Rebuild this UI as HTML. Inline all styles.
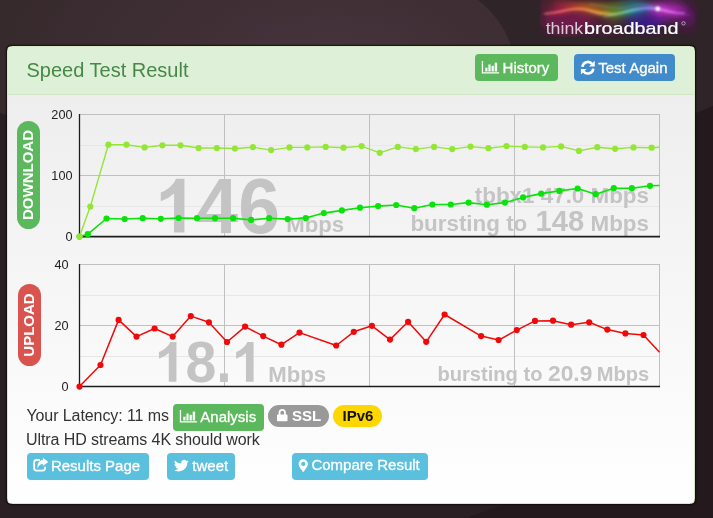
<!DOCTYPE html>
<html>
<head>
<meta charset="utf-8">
<title>Speed Test Result</title>
<style>
html,body{margin:0;padding:0;}
body{width:713px;height:518px;overflow:hidden;position:relative;background:#2a1f22;font-family:"Liberation Sans",sans-serif;}
#bg{position:absolute;left:0;top:0;width:713px;height:518px;}
#panel{position:absolute;left:7px;top:45.600px;width:686px;height:456.400px;border:1px solid #d6e9c6;border-radius:4.500px;background:linear-gradient(#eeeeee 48px,#ffffff 100%);box-shadow:0 0 1.500px .5px rgba(16,6,10,.8);overflow:hidden;}
#head{position:absolute;left:0;top:0;right:0;height:48px;background:#dff0d8;border-bottom:1px solid #d3e6c8;box-sizing:border-box;}
#title{position:absolute;left:18.5px;top:11.4px;font-size:20px;line-height:24px;color:#468847;white-space:nowrap;}
.btn{position:absolute;box-sizing:border-box;color:#fff;white-space:nowrap;border-radius:4px;font-size:15px;}
.btn span{position:absolute;top:0;line-height:100%;-webkit-text-stroke:.3px #fff;}
svg{position:absolute;left:0;top:0;overflow:visible;}
.t{position:absolute;white-space:nowrap;color:#333;font-size:16px;line-height:20px;}
.pill{position:absolute;border-radius:12px;margin-left:-.5px;}
.pill div{position:absolute;left:50%;top:50%;color:#fff;font-weight:bold;font-size:15px;line-height:16px;white-space:nowrap;transform:translate(-50%,-50%) rotate(-90deg);}
.badge{position:absolute;border-radius:11px;height:21.5px;top:405px;font-weight:bold;font-size:15px;line-height:21px;white-space:nowrap;}
</style>
</head>
<body>
<div id="root" style="position:absolute;left:0;top:0;width:713px;height:518px;will-change:transform;">
<svg id="bg" width="713" height="518" viewBox="0 0 713 518">
  <defs>
    <radialGradient id="glow" cx="330" cy="60" r="330" gradientUnits="userSpaceOnUse" gradientTransform="translate(0 30) scale(1 .5)">
      <stop offset="0" stop-color="#46343c"/>
      <stop offset="1" stop-color="#372a2d"/>
    </radialGradient>
  </defs>
  <rect width="713" height="518" fill="#2a1f23"/>
  <path d="M466 518L505 504H695V113.400L713 106V518Z" fill="#24191d"/>
  <path d="M0 0H713V106L695 113.400H7L0 112.700Z" fill="#2f2428"/>
  <path d="M0 0H478Q505 22 512 50L8 50L7 115L0 112.700Z" fill="#372a2d"/>
  <path d="M0 0H478Q505 22 512 50L0 50Z" fill="url(#glow)"/>
</svg>

<!-- logo -->
<svg id="logo" width="713" height="60" viewBox="0 0 713 60">
  <defs>
    <filter id="b6" x="-50%" y="-100%" width="200%" height="300%"><feGaussianBlur stdDeviation="5"/></filter>
    <filter id="b3" x="-30%" y="-100%" width="160%" height="300%"><feGaussianBlur stdDeviation="2.4"/></filter>
    <filter id="b1" x="-20%" y="-100%" width="140%" height="300%"><feGaussianBlur stdDeviation=".8"/></filter>
    <clipPath id="lc"><rect x="539.5" y="0" width="157.5" height="36.7"/></clipPath>
    <linearGradient id="rb" x1="545" x2="695" y1="0" y2="0" gradientUnits="userSpaceOnUse">
      <stop offset="0" stop-color="#d02050" stop-opacity=".3"/>
      <stop offset=".1" stop-color="#e8304a"/>
      <stop offset=".25" stop-color="#f0701a"/>
      <stop offset=".38" stop-color="#e8b020"/>
      <stop offset=".48" stop-color="#70c830"/>
      <stop offset=".58" stop-color="#28c0b8"/>
      <stop offset=".68" stop-color="#5868f0"/>
      <stop offset=".76" stop-color="#f060f8"/>
      <stop offset=".88" stop-color="#c028c8"/>
      <stop offset="1" stop-color="#701080" stop-opacity=".2"/>
    </linearGradient>
  </defs>
  <g clip-path="url(#lc)">
    <rect x="539.500" y="0" width="157.500" height="36.700" fill="#35212d"/>
    <g filter="url(#b6)">
      <ellipse cx="568" cy="20" rx="26" ry="14" fill="#7a1650" opacity=".8"/>
      <ellipse cx="560" cy="4" rx="18" ry="7" fill="#8a2030" opacity=".5"/>
      <ellipse cx="592" cy="9" rx="16" ry="6" fill="#b04020" opacity=".5"/>
      <ellipse cx="606" cy="26" rx="14" ry="8" fill="#5a1a3a" opacity=".6"/>
      <ellipse cx="616" cy="12" rx="10" ry="7" fill="#6a9020" opacity=".6"/>
      <ellipse cx="634" cy="9" rx="12" ry="7" fill="#1a7a9a" opacity=".6"/>
      <ellipse cx="646" cy="21" rx="20" ry="9" fill="#3a169a" opacity=".8"/>
      <ellipse cx="668" cy="10" rx="18" ry="9" fill="#b020c0" opacity=".75"/>
      <ellipse cx="686" cy="18" rx="10" ry="10" fill="#6a1878" opacity=".6"/>
    </g>
    <g filter="url(#b3)" fill="none" stroke="url(#rb)" stroke-linecap="round">
      <path d="M544 14C560 13 568 8 580 8S600 16 618 13S640 7 656 9S680 16 694 14" stroke-width="5" opacity=".6"/>
      <path d="M556 5C580 1 600 8 616 5S640 1 652 5S676 12 694 5" stroke-width="4" opacity=".4"/>
    </g>
    <g filter="url(#b1)" fill="none" stroke-linecap="round">
      <path d="M544 14C560 13 568 8.500 580 8.500S600 16 618 13.500S640 8 656 9S680 15 692 15" stroke="url(#rb)" stroke-width="1.600"/>
      <path d="M545 13.500C558 13 566 9 577 9S592 13 602 14.500" stroke="#ffc0a0" stroke-width=".9" opacity=".8"/>
      <path d="M604 16C616 16 624 11 634 9S650 7.500 657 9S672 14 684 13" stroke="#e8d0ff" stroke-width=".9" opacity=".7"/>
      <path d="M590 4C604 6 614 10 626 7S646 3 657 8" stroke="#80e0c0" stroke-width=".7" opacity=".5"/>
    </g>
    <circle cx="657.800" cy="8.800" r="2.300" fill="#fff" filter="url(#b1)"/>
  </g>
  <g font-family="Liberation Sans, sans-serif" font-size="16.600">
    <text x="545.700" y="33.800" fill="#dccbd8" textLength="37.500" lengthAdjust="spacingAndGlyphs">think</text>
    <text x="584" y="33.800" fill="#ffffff" stroke="#ffffff" stroke-width=".22" textLength="94.500" lengthAdjust="spacingAndGlyphs">broadband</text>
  </g>
  <circle cx="683.500" cy="23.300" r="1.700" fill="none" stroke="#d8c8d4" stroke-width=".7"/>
</svg>

<div id="panel">
  <div id="head">
    <div id="title">Speed Test Result</div>
  </div>
</div>

<!-- header buttons (page coords) -->
<div class="btn" style="left:475px;top:53.8px;width:83px;height:27px;background:#5cb85c;">
  <svg width="83" height="27" viewBox="0 0 83 27"><g fill="#fff"><path d="M6.8 7.1h1.3v11.2H24.1v1.3H6.8z"/><rect x="10.3" y="13.7" width="2.2" height="3.8"/><rect x="13.4" y="10.5" width="2.2" height="7"/><rect x="16.6" y="11.8" width="2.2" height="5.7"/><rect x="19.7" y="8.6" width="2.4" height="8.9"/></g></svg>
  <span style="left:27.600px;top:6.400px;">History</span>
</div>
<div class="btn" style="left:574.2px;top:53.8px;width:100.7px;height:27px;background:#428bca;">
  <svg width="101" height="27" viewBox="0 0 101 27"><g fill="none" stroke="#fff" stroke-width="2.6"><path d="M8.4 12.8A5.500 5.500 0 0 1 18.1 9.900"/><path d="M19.3 14.600A5.500 5.500 0 0 1 9.600 17.500"/></g><path d="M20.800 6.800v5.700h-5.700zM6.900 20.600v-5.700h5.700z" fill="#fff"/></svg>
  <span style="left:24.100px;top:6.400px;">Test Again</span>
</div>

<!-- charts -->
<svg id="charts" width="713" height="518" viewBox="0 0 713 518" font-family="Liberation Sans, sans-serif">
  <!-- download grid -->
  <g stroke="#e7e7e7" stroke-width="1" shape-rendering="crispEdges">
    <line x1="80" x2="659.5" y1="145.5" y2="145.5"/><line x1="80" x2="659.5" y1="206.5" y2="206.5"/>
    <line x1="80" x2="659.5" y1="295.5" y2="295.5"/><line x1="80" x2="659.5" y1="356.5" y2="356.5"/>
  </g>
  <g stroke="#c0c0c0" stroke-width="1" shape-rendering="crispEdges">
    <line x1="80" x2="660" y1="114.5" y2="114.5"/><line x1="80" x2="660" y1="175.5" y2="175.5"/>
    <line x1="224.5" x2="224.5" y1="114" y2="236"/><line x1="369.5" x2="369.5" y1="114" y2="236"/><line x1="514.5" x2="514.5" y1="114" y2="236"/><line x1="659.5" x2="659.5" y1="114" y2="236"/>
    <line x1="80" x2="660" y1="264.5" y2="264.5"/><line x1="80" x2="660" y1="325.5" y2="325.5"/>
    <line x1="224.5" x2="224.5" y1="264" y2="386"/><line x1="369.5" x2="369.5" y1="264" y2="386"/><line x1="514.5" x2="514.5" y1="264" y2="386"/><line x1="659.5" x2="659.5" y1="264" y2="386"/>
  </g>
  <!-- watermark text -->
  <g fill="#c4c4c4" font-weight="bold">
    <g transform="translate(154.9 232.5)"><path transform="translate(0.00 0) scale(0.03662 -0.03662)" d="M806 0H524V1063Q370 919 161 850V1094Q271 1130 400 1230.5Q529 1331 577 1466H806Z"/><text transform="translate(41.71 0) scale(1 1.04)" x="0" y="0" font-size="75">46</text></g>
    <text x="286.2" y="232.2" font-size="22.2">Mbps</text>
    <text x="649" y="203.3" font-size="22.4" text-anchor="end">tbbx1 47.0 Mbps</text>
    <text x="410.4" y="231" font-size="22.4">bursting to</text><text x="535.6" y="231" font-size="29.2">148</text><text x="649" y="231" font-size="22.4" text-anchor="end">Mbps</text>
    <g transform="translate(154.6 381.7)"><path transform="translate(0.00 0) scale(0.02710 -0.02710)" d="M806 0H524V1063Q370 919 161 850V1094Q271 1130 400 1230.5Q529 1331 577 1466H806Z"/><text transform="translate(30.87 0) scale(1 1.04)" x="0" y="0" font-size="55.5">8.</text><path transform="translate(77.15 0) scale(0.02710 -0.02710)" d="M806 0H524V1063Q370 919 161 850V1094Q271 1130 400 1230.5Q529 1331 577 1466H806Z"/></g>
    <text x="268.2" y="381.6" font-size="22.2">Mbps</text>
    <text x="437.5" y="381" font-size="20.1">bursting to</text><text x="548" y="381" font-size="22.8">20.9</text><text x="649.2" y="381" font-size="20.1" text-anchor="end">Mbps</text>
  </g>
  <!-- axes -->
  <g stroke="#1c1c1c">
    <line x1="79.500" x2="79.500" y1="114" y2="237" stroke-width="1.300"/>
    <line x1="79" x2="660" y1="236.600" y2="236.600" stroke-width="1.700"/>
    <line x1="79.500" x2="79.500" y1="264" y2="387" stroke-width="1.300"/>
    <line x1="79" x2="660" y1="386.500" y2="386.500" stroke-width="1.700"/>
  </g>
  <g fill="#222" font-size="12.7" text-anchor="end">
    <text x="72.5" y="119">200</text><text x="72.5" y="180">100</text><text x="72.5" y="240.5">0</text>
    <text x="68.5" y="269">40</text><text x="68.5" y="330">20</text><text x="68.5" y="390.5">0</text>
  </g>
  <polyline points="79.5,236.6 87.8,234.2 106.5,218.5 124.6,219.0 142.7,218.2 160.8,218.8 178.6,218.0 197.0,218.2 215.0,218.2 233.1,218.2 251.1,219.9 269.2,218.2 287.6,219.1 305.7,218.0 323.8,213.1 341.9,210.4 360.0,207.7 378.1,206.1 396.2,205.0 414.3,208.2 432.4,204.5 450.8,204.5 468.6,202.6 486.8,204.7 504.9,202.6 523.1,197.4 541.2,193.6 559.3,190.9 577.6,188.5 595.7,194.2 613.8,188.2 631.9,188.2 650.0,185.8 659.5,185.5" fill="none" stroke="#0ae30a" stroke-width="1.6" stroke-linejoin="round"/>
<circle cx="79.5" cy="236.6" r="3.1" fill="#0ae30a"/><circle cx="87.8" cy="234.2" r="3.1" fill="#0ae30a"/><circle cx="106.5" cy="218.5" r="3.1" fill="#0ae30a"/><circle cx="124.6" cy="219.0" r="3.1" fill="#0ae30a"/><circle cx="142.7" cy="218.2" r="3.1" fill="#0ae30a"/><circle cx="160.8" cy="218.8" r="3.1" fill="#0ae30a"/><circle cx="178.6" cy="218.0" r="3.1" fill="#0ae30a"/><circle cx="197.0" cy="218.2" r="3.1" fill="#0ae30a"/><circle cx="215.0" cy="218.2" r="3.1" fill="#0ae30a"/><circle cx="233.1" cy="218.2" r="3.1" fill="#0ae30a"/><circle cx="251.1" cy="219.9" r="3.1" fill="#0ae30a"/><circle cx="269.2" cy="218.2" r="3.1" fill="#0ae30a"/><circle cx="287.6" cy="219.1" r="3.1" fill="#0ae30a"/><circle cx="305.7" cy="218.0" r="3.1" fill="#0ae30a"/><circle cx="323.8" cy="213.1" r="3.1" fill="#0ae30a"/><circle cx="341.9" cy="210.4" r="3.1" fill="#0ae30a"/><circle cx="360.0" cy="207.7" r="3.1" fill="#0ae30a"/><circle cx="378.1" cy="206.1" r="3.1" fill="#0ae30a"/><circle cx="396.2" cy="205.0" r="3.1" fill="#0ae30a"/><circle cx="414.3" cy="208.2" r="3.1" fill="#0ae30a"/><circle cx="432.4" cy="204.5" r="3.1" fill="#0ae30a"/><circle cx="450.8" cy="204.5" r="3.1" fill="#0ae30a"/><circle cx="468.6" cy="202.6" r="3.1" fill="#0ae30a"/><circle cx="486.8" cy="204.7" r="3.1" fill="#0ae30a"/><circle cx="504.9" cy="202.6" r="3.1" fill="#0ae30a"/><circle cx="523.1" cy="197.4" r="3.1" fill="#0ae30a"/><circle cx="541.2" cy="193.6" r="3.1" fill="#0ae30a"/><circle cx="559.3" cy="190.9" r="3.1" fill="#0ae30a"/><circle cx="577.6" cy="188.5" r="3.1" fill="#0ae30a"/><circle cx="595.7" cy="194.2" r="3.1" fill="#0ae30a"/><circle cx="613.8" cy="188.2" r="3.1" fill="#0ae30a"/><circle cx="631.9" cy="188.2" r="3.1" fill="#0ae30a"/><circle cx="650.0" cy="185.8" r="3.1" fill="#0ae30a"/>

  <polyline points="79.5,236.6 90.3,206.6 108.4,144.7 126.5,144.7 144.6,147.4 162.4,145.3 180.5,145.3 198.6,148.0 216.8,148.0 234.9,148.5 253.0,147.2 271.1,150.1 289.5,147.4 307.3,147.4 325.7,146.9 343.5,147.7 361.6,146.1 379.7,152.8 397.8,146.9 415.9,149.1 434.1,146.9 452.2,149.1 470.5,146.6 488.4,148.2 506.5,146.1 524.8,146.9 543.0,147.4 561.1,146.4 578.9,150.9 597.3,147.2 615.1,148.8 633.5,147.4 651.6,147.7 659.5,147.2" fill="none" stroke="#94e635" stroke-width="1.4" stroke-linejoin="round"/>
<circle cx="79.5" cy="236.6" r="3.1" fill="#94e635"/><circle cx="90.3" cy="206.6" r="3.1" fill="#94e635"/><circle cx="108.4" cy="144.7" r="3.1" fill="#94e635"/><circle cx="126.5" cy="144.7" r="3.1" fill="#94e635"/><circle cx="144.6" cy="147.4" r="3.1" fill="#94e635"/><circle cx="162.4" cy="145.3" r="3.1" fill="#94e635"/><circle cx="180.5" cy="145.3" r="3.1" fill="#94e635"/><circle cx="198.6" cy="148.0" r="3.1" fill="#94e635"/><circle cx="216.8" cy="148.0" r="3.1" fill="#94e635"/><circle cx="234.9" cy="148.5" r="3.1" fill="#94e635"/><circle cx="253.0" cy="147.2" r="3.1" fill="#94e635"/><circle cx="271.1" cy="150.1" r="3.1" fill="#94e635"/><circle cx="289.5" cy="147.4" r="3.1" fill="#94e635"/><circle cx="307.3" cy="147.4" r="3.1" fill="#94e635"/><circle cx="325.7" cy="146.9" r="3.1" fill="#94e635"/><circle cx="343.5" cy="147.7" r="3.1" fill="#94e635"/><circle cx="361.6" cy="146.1" r="3.1" fill="#94e635"/><circle cx="379.7" cy="152.8" r="3.1" fill="#94e635"/><circle cx="397.8" cy="146.9" r="3.1" fill="#94e635"/><circle cx="415.9" cy="149.1" r="3.1" fill="#94e635"/><circle cx="434.1" cy="146.9" r="3.1" fill="#94e635"/><circle cx="452.2" cy="149.1" r="3.1" fill="#94e635"/><circle cx="470.5" cy="146.6" r="3.1" fill="#94e635"/><circle cx="488.4" cy="148.2" r="3.1" fill="#94e635"/><circle cx="506.5" cy="146.1" r="3.1" fill="#94e635"/><circle cx="524.8" cy="146.9" r="3.1" fill="#94e635"/><circle cx="543.0" cy="147.4" r="3.1" fill="#94e635"/><circle cx="561.1" cy="146.4" r="3.1" fill="#94e635"/><circle cx="578.9" cy="150.9" r="3.1" fill="#94e635"/><circle cx="597.3" cy="147.2" r="3.1" fill="#94e635"/><circle cx="615.1" cy="148.8" r="3.1" fill="#94e635"/><circle cx="633.5" cy="147.4" r="3.1" fill="#94e635"/><circle cx="651.6" cy="147.7" r="3.1" fill="#94e635"/>

  <polyline points="79.5,386.6 100.5,365.0 118.6,319.9 136.5,336.6 154.6,328.5 172.7,336.6 190.8,316.1 208.9,322.3 227.0,342.0 245.1,326.6 263.2,336.1 281.4,344.7 299.5,332.6 336.2,345.5 353.8,331.8 371.9,325.8 390.0,339.6 408.1,321.8 426.2,341.8 444.6,314.5 481.1,336.1 498.6,340.1 516.8,330.1 535.0,320.9 553.0,320.7 571.1,324.7 589.2,322.3 607.3,329.6 625.4,333.4 643.5,335.0 659.5,352.3" fill="none" stroke="#ee0a0a" stroke-width="1.5" stroke-linejoin="round"/>
<circle cx="79.5" cy="386.6" r="3.1" fill="#ee0a0a"/><circle cx="100.5" cy="365.0" r="3.1" fill="#ee0a0a"/><circle cx="118.6" cy="319.9" r="3.1" fill="#ee0a0a"/><circle cx="136.5" cy="336.6" r="3.1" fill="#ee0a0a"/><circle cx="154.6" cy="328.5" r="3.1" fill="#ee0a0a"/><circle cx="172.7" cy="336.6" r="3.1" fill="#ee0a0a"/><circle cx="190.8" cy="316.1" r="3.1" fill="#ee0a0a"/><circle cx="208.9" cy="322.3" r="3.1" fill="#ee0a0a"/><circle cx="227.0" cy="342.0" r="3.1" fill="#ee0a0a"/><circle cx="245.1" cy="326.6" r="3.1" fill="#ee0a0a"/><circle cx="263.2" cy="336.1" r="3.1" fill="#ee0a0a"/><circle cx="281.4" cy="344.7" r="3.1" fill="#ee0a0a"/><circle cx="299.5" cy="332.6" r="3.1" fill="#ee0a0a"/><circle cx="336.2" cy="345.5" r="3.1" fill="#ee0a0a"/><circle cx="353.8" cy="331.8" r="3.1" fill="#ee0a0a"/><circle cx="371.9" cy="325.8" r="3.1" fill="#ee0a0a"/><circle cx="390.0" cy="339.6" r="3.1" fill="#ee0a0a"/><circle cx="408.1" cy="321.8" r="3.1" fill="#ee0a0a"/><circle cx="426.2" cy="341.8" r="3.1" fill="#ee0a0a"/><circle cx="444.6" cy="314.5" r="3.1" fill="#ee0a0a"/><circle cx="481.1" cy="336.1" r="3.1" fill="#ee0a0a"/><circle cx="498.6" cy="340.1" r="3.1" fill="#ee0a0a"/><circle cx="516.8" cy="330.1" r="3.1" fill="#ee0a0a"/><circle cx="535.0" cy="320.9" r="3.1" fill="#ee0a0a"/><circle cx="553.0" cy="320.7" r="3.1" fill="#ee0a0a"/><circle cx="571.1" cy="324.7" r="3.1" fill="#ee0a0a"/><circle cx="589.2" cy="322.3" r="3.1" fill="#ee0a0a"/><circle cx="607.3" cy="329.6" r="3.1" fill="#ee0a0a"/><circle cx="625.4" cy="333.4" r="3.1" fill="#ee0a0a"/><circle cx="643.5" cy="335.0" r="3.1" fill="#ee0a0a"/>

</svg>

<!-- side pills -->
<div class="pill" style="left:17px;top:121px;width:23px;height:108px;background:#5cb85c;"><div>DOWNLOAD</div></div>
<div class="pill" style="left:18px;top:284px;width:23px;height:82px;background:#d9534f;"><div>UPLOAD</div></div>

<!-- bottom info -->
<div class="t" style="left:26.400px;top:406px;letter-spacing:-.08px;">Your Latency: 11 ms</div>
<div class="t" style="left:26px;top:430px;letter-spacing:-.09px;">Ultra HD streams 4K should work</div>

<div class="btn" style="left:173px;top:404.2px;width:90.800px;height:26.500px;background:#5cb85c;">
  <svg width="91" height="27" viewBox="0 1 91 27"><g fill="#fff"><path d="M6.8 7.1h1.3v11.2H24.1v1.3H6.8z"/><rect x="10.3" y="13.7" width="2.2" height="3.8"/><rect x="13.4" y="10.5" width="2.2" height="7"/><rect x="16.6" y="11.8" width="2.2" height="5.7"/><rect x="19.7" y="8.6" width="2.4" height="8.9"/></g></svg>
  <span style="left:27.300px;top:4.400px;">Analysis</span>
</div>

<div class="badge" style="left:268px;width:61px;background:#999;color:#fff;">
  <svg width="61" height="22" viewBox="0 0 61 22"><path d="M10.650 9.600V7.500a3.600 3.600 0 0 1 7.200 0v2.100h.850a.800.800 0 0 1 .800.800v5.100a.800.800 0 0 1-.800.800h-8.900a.800.800 0 0 1-.800-.800v-5.100a.800.800 0 0 1 .800-.800zM12.450 9.600h3.600V7.500a1.800 1.800 0 0 0-3.600 0z" fill="#fff"/></svg>
  <span style="position:absolute;left:24px;top:0;">SSL</span>
</div>
<div class="badge" style="left:333px;width:49px;background:#ffd700;color:#111;">
  <span style="position:absolute;left:9.5px;top:0;">IPv6</span>
</div>

<div class="btn" style="left:27.2px;top:453px;width:121.6px;height:26.8px;background:#5bc0de;">
  <svg width="122" height="27" viewBox="0 0 122 27"><path d="M18.100 13.700v1.500a2.400 2.400 0 0 1-2.400 2.400H9.600a2.400 2.400 0 0 1-2.400-2.400V9.400a2.400 2.400 0 0 1 2.400-2.400h3.300" fill="none" stroke="#fff" stroke-width="1.800"/><path d="M15.900 4.700l5.400 4.200-5.400 4.200v-2.200c-2.400 0-4.300 1.200-5.300 4.600-.600-4.900 1.400-8.300 5.300-8.600z" fill="#fff"/></svg>
  <span style="left:23.700px;top:4.500px;">Results Page</span>
</div>
<div class="btn" style="left:167px;top:453px;width:67.700px;height:26.800px;background:#5bc0de;">
  <svg width="68" height="27" viewBox="0 0 68 27"><path transform="translate(13.950 12.500) scale(1.100 1.050) translate(-13.500 -13.400)" d="M20.600 9.400c-.5.200-1 .4-1.600.4.600-.3 1-.9 1.200-1.500-.5.300-1.100.600-1.700.700a2.800 2.800 0 0 0-4.800 2.500c-2.300-.1-4.300-1.200-5.700-2.900-.7 1.300-.3 2.900.9 3.700-.5 0-.9-.1-1.300-.4 0 1.400 1 2.500 2.200 2.800-.400.100-.800.100-1.200 0 .3 1.100 1.400 1.900 2.600 1.900-1.200.9-2.700 1.300-4.100 1.200 1.200.8 2.700 1.200 4.300 1.200 5.100 0 7.900-4.200 7.900-7.900v-.4c.5-.400 1-.9 1.300-1.300z" fill="#fff"/></svg>
  <span style="left:25.300px;top:4.500px;">tweet</span>
</div>
<div class="btn" style="left:292px;top:453px;width:136px;height:26.800px;background:#5bc0de;">
  <svg width="136" height="27" viewBox="0 0 136 27"><path d="M11.250 6.300a4.650 4.650 0 0 0-4.650 4.650c0 2.800 4.650 8.150 4.650 8.150s4.650-5.350 4.650-8.150a4.650 4.650 0 0 0-4.650-4.650zm0 2.550a2.100 2.100 0 1 1 0 4.200a2.100 2.100 0 0 1 0-4.200z" fill="#fff" fill-rule="evenodd"/></svg>
  <span style="left:19.400px;top:4.400px;">Compare Result</span>
</div>

</div>
</body>
</html>
